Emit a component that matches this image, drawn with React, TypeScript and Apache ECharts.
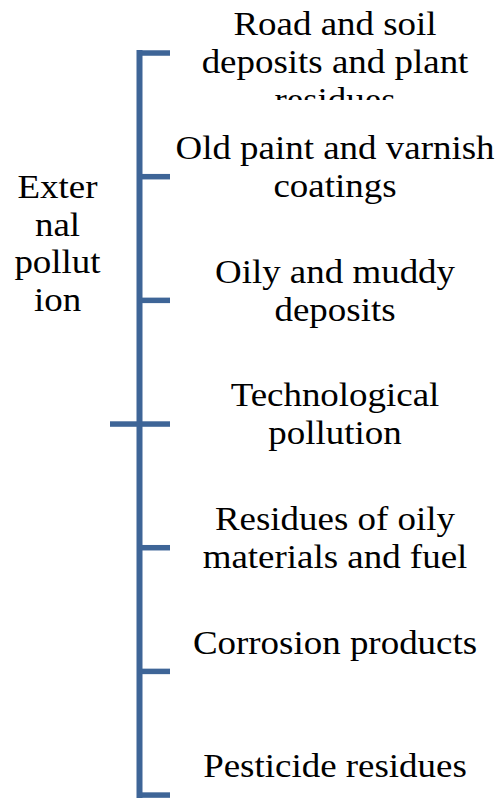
import React, { useEffect, useRef } from "react";
import * as echarts from "echarts";

// ---- data ----
const items: string[] = [
  "Road and soil\ndeposits and plant\nresidues",
  "Old paint and varnish\ncoatings",
  "Oily and muddy\ndeposits",
  "Technological\npollution",
  "Residues of oily\nmaterials and fuel",
  "Corrosion products",
  "Pesticide residues",
];
const itemIndex: number[] = items.map((_, i) => i);
const groupLabel = "Exter\nnal\npollut\nion";
const groupLabelPos = 1.54; // position on the item scale
const joinIndex = 3; // item where the bracket joins its parent

// ---- style ----
const LINE = "#3e6597";
const FONT = "Liberation Serif";
const FS = 33;
const SX = 1.12;

export default function App() {
  const ref = useRef<HTMLDivElement>(null);
  useEffect(() => {
    document.body.style.margin = "0";
    const chart = echarts.init(ref.current!, null, { renderer: "svg" });
    const spineX = 139.5;
    const tickRight = 170;
    const joinLeft = 110;
    const textX = 335;
    chart.setOption({
      animation: false,
      grid: { left: 0, right: 0, top: 0, bottom: 0 },
      xAxis: { type: "value", min: 0, max: 503, show: false },
      yAxis: {
        type: "value",
        inverse: true,
        min: -0.4286,
        max: 6.0237,
        show: false,
      },
      series: [
        {
          type: "custom",
          coordinateSystem: "cartesian2d",
          data: [[itemIndex[0], itemIndex[itemIndex.length - 1]]],
          encode: { y: [0, 1] },
          renderItem: (params: any, api: any) => {
            const top = api.coord([0, api.value(0)])[1];
            return {
              type: "line",
              shape: { x1: spineX, y1: top - 3, x2: spineX, y2: 800 },
              style: { stroke: LINE, lineWidth: 6 },
            };
          },
          z: 2,
        },
        {
          type: "custom",
          coordinateSystem: "cartesian2d",
          data: itemIndex.map((i) => [0, i]),
          encode: { x: 0, y: 1 },
          renderItem: (params: any, api: any) => {
            const i = api.value(1);
            const y = api.coord([0, i])[1];
            const children: any[] = [
              {
                type: "line",
                shape: { x1: spineX, y1: y, x2: tickRight, y2: y },
                style: { stroke: LINE, lineWidth: 5.5 },
              },
              {
                type: "text",
                x: textX,
                y: y - 47.5,
                scaleX: SX,
                style: {
                  text: items[i],
                  fontSize: FS,
                  fontFamily: FONT,
                  fill: "#000",
                  align: "center",
                  verticalAlign: "top",
                  lineHeight: 38,
                },
              },
            ];
            if (i === joinIndex) {
              children.push({
                type: "line",
                shape: { x1: joinLeft, y1: y, x2: spineX, y2: y },
                style: { stroke: LINE, lineWidth: 5.5 },
              });
            }
            if (i === 0) {
              children.push({
                type: "rect",
                shape: { x: 176, y: y + 47, width: 327, height: 26 },
                style: { fill: "#fff" },
                z2: 100,
              });
            }
            return { type: "group", children };
          },
          z: 3,
        },
        {
          type: "custom",
          coordinateSystem: "cartesian2d",
          data: [[0, groupLabelPos]],
          encode: { x: 0, y: 1 },
          renderItem: (params: any, api: any) => {
            const y = api.coord([0, api.value(1)])[1];
            return {
              type: "text",
              x: 57.5,
              y,
              scaleX: SX,
              style: {
                text: groupLabel,
                fontSize: FS,
                fontFamily: FONT,
                fill: "#000",
                align: "center",
                verticalAlign: "middle",
                lineHeight: 37.5,
              },
            };
          },
        },
      ],
    });
    return () => chart.dispose();
  }, []);
  return <div ref={ref} style={{ width: 503, height: 798 }} />;
}
